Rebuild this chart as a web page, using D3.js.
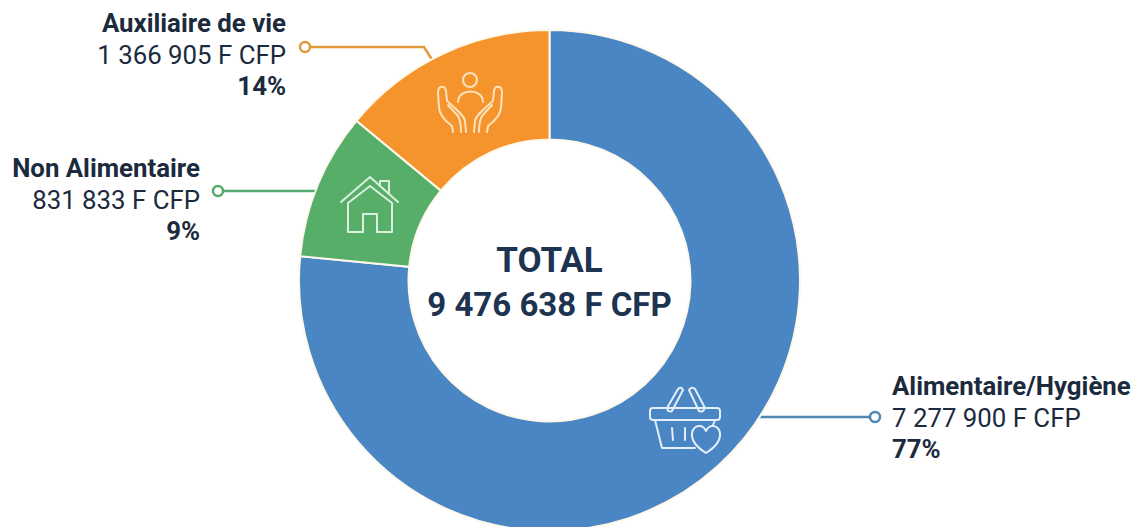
<!DOCTYPE html>
<head>
  <meta charset="utf-8">
  <script src="https://d3js.org/d3.v7.min.js"></script>
  <style>
    html, body { margin: 0; padding: 0; background: #fff; overflow: hidden; }
    svg { display: block; font-family: Roboto, sans-serif; }
  </style>
</head>

<body>
  <script type='text/javascript'>
    var categories = ["Alimentaire/Hygiène", "Non Alimentaire", "Auxiliaire de vie"];
    // slice sizes as drawn in the picture, in percent of the ring
    var sliceShares = [76.55, 9.45, 14];
    var amountLabels = ["7 277 900 F CFP", "831 833 F CFP", "1 366 905 F CFP"];
    var percentLabels = ["77%", "9%", "14%"];
    var totalLabels = ["TOTAL", "9 476 638 F CFP"];

    var width = 1136;
    var height = 527;
    var cx = 549.5, cy = 280.5;
    var outerRadius = 250.5, innerRadius = 141;
    var textColor = "#1b2a3d";

    var color = d3.scaleOrdinal()
      .domain(categories)
      .range(["#4a85c4", "#56ae69", "#f5932c"]);

    var lineColor = d3.scaleOrdinal()
      .domain(categories)
      .range(["#4f86b3", "#56a86c", "#e09a3c"]);

    // where each label block and its leader line goes
    var layout = {
      "Alimentaire/Hygiène": { x: 892, y: 395, anchor: "start", line: [[758, 417], [875, 417]] },
      "Non Alimentaire": { x: 200, y: 177, anchor: "end", line: [[316, 191], [218, 191]] },
      "Auxiliaire de vie": { x: 286, y: 32, anchor: "end", line: [[436, 66], [424, 47], [305, 47]] }
    };

    var svg = d3.select("body")
      .append("svg")
      .attr("width", width)
      .attr("height", height);

    var pie = d3.pie().sort(null).value(d => d.value);
    var arc = d3.arc().innerRadius(innerRadius).outerRadius(outerRadius);

    var slices = pie(categories.map((c, i) => ({ name: c, value: sliceShares[i], index: i })));

    // leader lines go under the ring
    var line = d3.line();
    svg.append("g").selectAll("path")
      .data(slices)
      .enter().append("path")
      .attr("d", d => line(layout[d.data.name].line))
      .attr("fill", "none")
      .attr("stroke", d => lineColor(d.data.name))
      .attr("stroke-width", 2.5);

    svg.append("g").selectAll("circle")
      .data(slices)
      .enter().append("circle")
      .attr("cx", d => layout[d.data.name].line[layout[d.data.name].line.length - 1][0])
      .attr("cy", d => layout[d.data.name].line[layout[d.data.name].line.length - 1][1])
      .attr("r", 5)
      .attr("fill", "#fff")
      .attr("stroke", d => lineColor(d.data.name))
      .attr("stroke-width", 2.5);

    svg.append("g")
      .attr("transform", "translate(" + cx + "," + cy + ")")
      .selectAll("path")
      .data(slices)
      .enter().append("path")
      .attr("d", arc)
      .attr("fill", d => color(d.data.name))
      .attr("stroke", "#fdf8ea")
      .attr("stroke-width", 2);

    // labels
    var labels = svg.append("g").selectAll("text")
      .data(slices)
      .enter().append("text")
      .attr("text-anchor", d => layout[d.data.name].anchor)
      .attr("fill", textColor);

    labels.append("tspan")
      .attr("x", d => layout[d.data.name].x)
      .attr("y", d => layout[d.data.name].y)
      .attr("font-size", 25.8)
      .attr("font-weight", 700)
      .text(d => d.data.name);
    labels.append("tspan")
      .attr("x", d => layout[d.data.name].x)
      .attr("y", d => layout[d.data.name].y + 31.5)
      .attr("font-size", 25.8)
      .text(d => amountLabels[d.data.index]);
    labels.append("tspan")
      .attr("x", d => layout[d.data.name].x)
      .attr("y", d => layout[d.data.name].y + 62.5)
      .attr("font-size", 25.8)
      .attr("font-weight", 700)
      .text(d => percentLabels[d.data.index]);

    // centre total
    svg.append("g").selectAll("text")
      .data(totalLabels)
      .enter().append("text")
      .attr("x", cx)
      .attr("y", (d, i) => 272 + i * 44)
      .attr("text-anchor", "middle")
      .attr("font-size", (d, i) => i == 0 ? 35 : 33)
      .attr("font-weight", 700)
      .attr("fill", "#1d3350")
      .text(d => d);

    // outline icons on the ring
    function icon(x, y, stroke) {
      return svg.append("g")
        .attr("transform", "translate(" + x + "," + y + ")")
        .attr("fill", "none")
        .attr("stroke", stroke)
        .attr("stroke-width", 2)
        .attr("stroke-linecap", "round")
        .attr("stroke-linejoin", "round");
    }

    // hands holding a person
    var hands = icon(470, 103, "#fde3bd");
    hands.append("circle").attr("cx", 0).attr("cy", -23).attr("r", 7);
    hands.append("path").attr("d", "M-12,-1 C-12,-15 13,-15 13,-1");
    [1, -1].forEach(function (s) {
      hands.append("path").attr("d", "M" + (s * -17) + ",29 L" + (s * -18) + ",23 C" + (s * -26) + ",17 " + (s * -31) + ",10 " + (s * -31) + ",4 L" + (s * -32) + ",-10 C" + (s * -32) + ",-18 " + (s * -25) + ",-18 " + (s * -24) + ",-12 L" + (s * -23) + ",-2 C" + (s * -15) + ",5 " + (s * -6) + ",12 " + (s * -5) + ",18 L" + (s * -4) + ",29");
      hands.append("path").attr("d", "M" + (s * -22) + ",2 L" + (s * -12) + ",13 C" + (s * -9) + ",18 " + (s * -9) + ",24 " + (s * -9) + ",29");
    });

    // house
    var house = icon(370, 205, "#d9f1dc");
    house.append("path").attr("d", "M-29,-3 L0,-28 L28,-3");
    house.append("path").attr("d", "M-22,-2 L0,-19 L22,-2 L22,27 L7,27 L7,9 L-7,9 L-7,27 L-22,27 Z");
    house.append("path").attr("d", "M10,-20 L10,-24 L19,-24 L19,-12");

    // basket with a heart
    var basket = icon(686, 420, "#e2eef9");
    basket.append("path").attr("d", "M-33,-12 L31,-12 Q34,-12 34,-9 L34,-3 Q34,0 31,0 L-33,0 Q-36,0 -36,-3 L-36,-9 Q-36,-12 -33,-12 Z");
    basket.append("path").attr("d", "M-31,0 L-24,28 L9,28");
    basket.append("path").attr("d", "M29,0 L27,5");
    basket.append("path").attr("d", "M-19,-12 L-8,-31 Q-5,-34 -3,-30 L-14,-9 Q-18,-7 -19,-12 Z");
    basket.append("path").attr("d", "M19,-12 L9,-31 Q6,-34 3,-30 L13,-9 Q17,-7 19,-12 Z");
    basket.append("path").attr("d", "M-14,8 L-13,20 M-1,8 L-1,20");
    basket.append("path").attr("d", "M20,33 C12,28 5,22 6,13 C8,4 17,4 20,11 C23,4 32,4 34,13 C35,22 28,28 20,33 Z");
  </script>
</body>
